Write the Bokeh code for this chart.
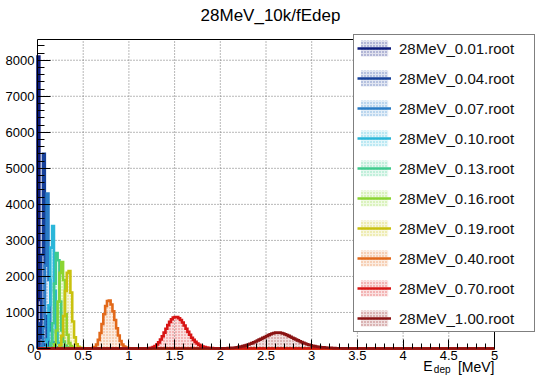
import numpy as np
from bokeh.plotting import figure
from bokeh.models import (Range1d, Legend, LegendItem, Label, SingleIntervalTicker,
                          NumeralTickFormatter, LinearAxis)
from bokeh.embed import file_html
from bokeh.resources import INLINE

# ---------------- data ----------------
title_text = "28MeV_10k/fEdep"
labels = ["28MeV_0.01.root", "28MeV_0.04.root", "28MeV_0.07.root", "28MeV_0.10.root",
          "28MeV_0.13.root", "28MeV_0.16.root", "28MeV_0.19.root", "28MeV_0.40.root",
          "28MeV_0.70.root", "28MeV_1.00.root"]
colors = ["#0c1b7c", "#16409a", "#2a7cc6", "#2ab6d9", "#3fcb8e",
          "#8bd532", "#c9c10e", "#e2691a", "#d81414", "#8a1212"]

x_min, x_max = 0.0, 5.0
bin_width = 0.02
y_min, y_max = 0, 8575
x_tick_step = 0.5
y_tick_step = 1000

# first bin edge [MeV] and counts per 0.02 MeV bin for every file
start_001 = 0.00
counts_001 = [8100, 1350, 300, 110, 50, 25, 14, 8, 5, 3, 2, 1]
start_004 = 0.00
counts_004 = [20, 700, 2600, 5400, 900, 220, 80, 35, 18, 10, 6, 4, 2, 1]
start_007 = 0.04
counts_007 = [60, 600, 2300, 4300, 1900, 500, 170, 70, 35, 20, 12, 7, 4, 2, 1]
start_010 = 0.08
counts_010 = [30, 250, 1200, 2800, 3400, 1600, 450, 150, 60, 28, 14, 7, 4, 2]
start_013 = 0.12
counts_013 = [20, 150, 700, 1800, 2650, 2450, 1300, 500, 190, 80, 40, 20, 10, 6, 3, 2]
start_016 = 0.16
counts_016 = [20, 120, 500, 1300, 2100, 2400, 1900, 950, 380, 150, 65, 30, 15, 8, 4, 2]
start_019 = 0.22
counts_019 = [15, 90, 350, 900, 1600, 2100, 2150, 1550, 750, 310, 120, 50, 22, 10, 5, 2]
start_040 = 0.60
counts_040 = [10, 40, 110, 240, 430, 680, 950, 1180, 1320, 1330, 1220, 1030, 790, 560,
              360, 210, 110, 55, 25, 10, 5]
start_070 = 1.20
counts_070 = [5, 10, 20, 40, 70, 110, 170, 250, 340, 440, 550, 650, 740, 810, 860, 870,
              870, 840, 790, 720, 640, 550, 460, 380, 300, 240, 185, 140, 100, 75, 55,
              40, 28, 20, 14, 10, 6, 4, 2]
start_100 = 2.00
counts_100 = [3, 4, 6, 8, 10, 13, 17, 22, 28, 36, 45, 55, 67, 80, 95, 112, 130, 150, 172,
              195, 220, 245, 270, 295, 320, 345, 370, 395, 415, 430, 440, 445, 440, 430,
              415, 395, 375, 350, 325, 300, 275, 250, 225, 200, 178, 157, 138, 120, 104,
              90, 78, 67, 57, 49, 42, 36, 31, 26, 22, 19, 16, 13, 11, 9, 8, 6, 5, 4, 3,
              3, 2, 2, 1, 1]

starts = [start_001, start_004, start_007, start_010, start_013,
          start_016, start_019, start_040, start_070, start_100]
counts = [counts_001, counts_004, counts_007, counts_010, counts_013,
          counts_016, counts_019, counts_040, counts_070, counts_100]

# ---------------- layout (pixels) ----------------
W, H = 538, 375
frame_left, frame_right, frame_top, frame_bottom = 37, 494, 39, 348
px_x = (frame_right - frame_left) / (x_max - x_min)
px_y = (frame_bottom - frame_top) / (y_max - y_min)

FONT = "Liberation Sans"
p = figure(width=W, height=H, output_backend="svg", toolbar_location=None,
           x_axis_location=None, y_axis_location=None,
           x_range=Range1d(x_min - frame_left / px_x, x_max + (W - frame_right) / px_x),
           y_range=Range1d(y_min - (H - frame_bottom) / px_y, y_max + frame_top / px_y),
           min_border=0)
p.background_fill_color = "white"
p.border_fill_color = "white"
p.outline_line_color = None
p.xgrid.visible = False
p.ygrid.visible = False

# dotted grid inside the ROOT frame
gx = np.arange(x_min + x_tick_step, x_max, x_tick_step)
gy = np.arange(y_min + y_tick_step, y_max, y_tick_step)
p.segment(x0=gx, y0=y_min, x1=gx, y1=y_max, line_color="#707070", line_dash="1 2",
          line_width=1)
p.segment(x0=x_min, y0=gy, x1=x_max, y1=gy, line_color="#707070", line_dash="1 2",
          line_width=1)

n_bins = int(round((x_max - x_min) / bin_width))
edges = x_min + bin_width * np.arange(n_bins + 1)

items = []
for lab, col, st, cnt in zip(labels, colors, starts, counts):
    full = np.zeros(n_bins)
    i0 = int(round((st - x_min) / bin_width))
    full[i0:i0 + len(cnt)] = cnt
    nz = full > 0
    qr = p.quad(left=edges[:-1][nz], right=edges[1:][nz], top=full[nz], bottom=0,
                fill_color=col, fill_alpha=0.13, line_alpha=0,
                hatch_pattern="dot", hatch_color=col, hatch_alpha=0.55,
                hatch_scale=3, hatch_weight=1)
    xs = np.concatenate([[edges[0]], np.repeat(edges, 2)[1:-1], [edges[-1]]])
    ys = np.concatenate([[0], np.repeat(full, 2), [0]])
    lr = p.line(xs, ys, line_color=col, line_width=2.6, line_join="miter")
    items.append(LegendItem(label=lab, renderers=[qr, lr]))

# frame top and right borders
p.segment(x0=[x_min, x_max], y0=[y_max, y_min], x1=[x_max, x_max], y1=[y_max, y_max],
          line_color="black", line_width=1)

# axes fixed at the ROOT frame edges
xax = LinearAxis(fixed_location=y_min, bounds=(x_min, x_max),
                 ticker=SingleIntervalTicker(interval=x_tick_step, num_minor_ticks=5),
                 formatter=NumeralTickFormatter(format="0.[0]"))
yax = LinearAxis(fixed_location=x_min, bounds=(y_min, y_max),
                 ticker=SingleIntervalTicker(interval=y_tick_step, num_minor_ticks=5))
for ax in (xax, yax):
    ax.axis_line_color = "black"
    ax.major_tick_line_color = "black"
    ax.minor_tick_line_color = "black"
    ax.major_tick_out = 0
    ax.minor_tick_out = 0
    ax.major_label_text_font = FONT
    ax.major_label_text_font_size = "13px"
    ax.major_label_text_color = "black"
xax.axis_line_color = None
xax.major_tick_in = 9
xax.minor_tick_in = 5
yax.major_tick_in = 13
yax.minor_tick_in = 7
xax.major_label_standoff = 2
yax.major_label_standoff = 3
p.add_layout(xax, "below")
p.add_layout(yax, "left")

legend = Legend(items=items, location=(353, H - 332), orientation="vertical",
                border_line_color="black", border_line_width=1,
                background_fill_color="white", background_fill_alpha=1,
                label_text_font=FONT, label_text_font_size="15px",
                label_text_color="#111111",
                glyph_width=34, glyph_height=20, label_height=20,
                label_width=132, label_standoff=8, spacing=10, padding=3, margin=0)
p.add_layout(legend, "center")

# title and x-axis title (screen units measured from the bottom-left corner)
p.add_layout(Label(x=270, y=H - 15, x_units="screen", y_units="screen", text=title_text,
                   text_font=FONT, text_font_size="17px", text_align="center",
                   text_baseline="middle", text_color="black"))
p.add_layout(Label(x=494, y=H - 366, x_units="screen", y_units="screen", text="[MeV]",
                   text_font=FONT, text_font_size="14px", text_align="right",
                   text_baseline="middle", text_color="black"))
p.add_layout(Label(x=450, y=H - 369, x_units="screen", y_units="screen", text="dep",
                   text_font=FONT, text_font_size="10px", text_align="right",
                   text_baseline="middle", text_color="black"))
p.add_layout(Label(x=432, y=H - 365, x_units="screen", y_units="screen", text="E",
                   text_font=FONT, text_font_size="14px", text_align="right",
                   text_baseline="middle", text_color="black"))

open("out.html", "w").write(file_html(p, INLINE))
